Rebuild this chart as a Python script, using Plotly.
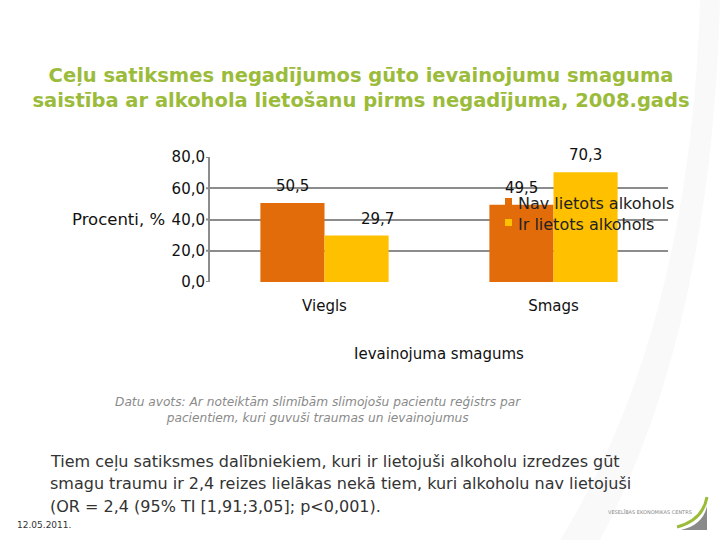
import plotly.graph_objects as go

categories = ["Viegls", "Smags"]
series_names = ["Nav lietots alkohols", "Ir lietots alkohols"]
nav_values = [50.5, 49.5]
ir_values = [29.7, 70.3]
y_ticks = [0, 20, 40, 60, 80]
y_tick_labels = ["0,0", "20,0", "40,0", "60,0", "80,0"]
colors = ["#E36C0A", "#FFC000"]

W, H = 720, 540
L, R, T, B = 210, 52, 157, 258
PW, PH = W - L - R, H - T - B

def px(x):
    return (x - L) / PW

def py(y):
    return (H - B - y) / PH

def fmt(v):
    return f"{v:.1f}".replace(".", ",")

base_font = "DejaVu Sans"

fig = go.Figure()
for name, vals, col in zip(series_names, [nav_values, ir_values], colors):
    fig.add_trace(go.Bar(x=categories, y=vals, name=name, showlegend=False,
                         marker=dict(color=col, line=dict(width=0))))

# data labels
bar_off = 0.14
for si, vals in enumerate([nav_values, ir_values]):
    for ci, v in enumerate(vals):
        xs = ci + (si - 0.5) * 2 * bar_off
        xshift = 21 if (si == 1 and ci == 0) else 0
        fig.add_annotation(x=xs, y=v, xref="x", yref="y", text=fmt(v), showarrow=False,
                           yshift=17, xshift=xshift, font=dict(family=base_font, size=15, color="#111"))

shapes = []
# faint background arc
shapes.append(dict(type="path", xref="paper", yref="paper", layer="below",
                   path=f"M {px(700)} {py(0)} Q {px(690)} {py(330)} {px(560)} {py(540)} L {px(600)} {py(540)} Q {px(712)} {py(330)} {px(720)} {py(0)} Z",
                   fillcolor="rgba(0,0,0,0.025)", line=dict(width=0)))
# y tick marks
for t in y_ticks:
    shapes.append(dict(type="line", xref="paper", yref="y", x0=px(206), x1=px(210), y0=t, y1=t,
                       line=dict(color="#8C8C8C", width=2)))
# manual legend
for i, (name, col) in enumerate(zip(series_names, colors)):
    yc = 203 + i * 21
    shapes.append(dict(type="rect", xref="paper", yref="paper",
                       x0=px(505), x1=px(512), y0=py(yc - 5), y1=py(yc + 2),
                       fillcolor=col, line=dict(width=0)))
    fig.add_annotation(xref="paper", yref="paper", x=px(516), y=py(yc), xanchor="left", yanchor="middle",
                       text=name, showarrow=False, font=dict(family=base_font, size=16, color="#222"))

# logo
shapes.append(dict(type="path", xref="paper", yref="paper",
                   path=f"M {px(707)} {py(506)} Q {px(703)} {py(525)} {px(681)} {py(530)} L {px(707)} {py(530)} Z",
                   fillcolor="#8A8A8A", line=dict(width=0)))
shapes.append(dict(type="path", xref="paper", yref="paper",
                   path=f"M {px(707)} {py(497)} Q {px(703)} {py(520)} {px(677)} {py(527)}",
                   line=dict(color="#9BBB3B", width=3)))

fig.update_layout(
    width=W, height=H,
    paper_bgcolor="white", plot_bgcolor="white",
    margin=dict(l=L, r=R, t=T, b=B, autoexpand=False),
    barmode="group", bargap=0.44, bargroupgap=0,
    font=dict(family=base_font, color="#111"),
    title=dict(text="Ceļu satiksmes negadījumos gūto ievainojumu smaguma<br>saistība ar alkohola lietošanu pirms negadījuma, 2008.gads",
               x=361 / W, xanchor="center", y=1 - 82 / H, yanchor="middle", yref="container", xref="container",
               font=dict(family=base_font, size=19.5, color="#9BBB3B", weight="bold")),
    showlegend=False,
    shapes=shapes,
)
fig.update_yaxes(range=[0, 80], tickvals=y_ticks, ticktext=y_tick_labels, automargin=False,
                 showgrid=True, gridcolor="#8C8C8C", gridwidth=2,
                 showline=True, linecolor="#8C8C8C", linewidth=2,
                 ticks="", ticklabelstandoff=0,
                 tickfont=dict(family=base_font, size=15, color="#111"), zeroline=False)
fig.update_xaxes(showgrid=False, showline=False, ticks="", ticklabelstandoff=13, automargin=False,
                 tickfont=dict(family=base_font, size=15, color="#111"),
                 title=dict(text="Ievainojuma smagums", font=dict(family=base_font, size=15, color="#111"), standoff=34))

# y-axis title (horizontal)
fig.add_annotation(x=px(167), y=40, xref="paper", yref="y", xanchor="right", yanchor="middle",
                   text="Procenti, %", showarrow=False,
                   font=dict(family=base_font, size=16.5, color="#111"))

# source note
fig.add_annotation(x=px(318), y=py(410), xref="paper", yref="paper", xanchor="center", yanchor="middle",
                   text="<i>Datu avots: Ar noteiktām slimībām slimojošu pacientu reģistrs par<br>pacientiem, kuri guvuši traumas un ievainojumus</i>",
                   showarrow=False, font=dict(family=base_font, size=12.2, color="#8A8A8A"))
# paragraph
para = ["Tiem ceļu satiksmes dalībniekiem, kuri ir lietojuši alkoholu izredzes gūt",
        "smagu traumu ir 2,4 reizes lielākas nekā tiem, kuri alkoholu nav lietojuši",
        "(OR = 2,4 (95% TI [1,91;3,05]; p<0,001)."]
for i, line in enumerate(para):
    fig.add_annotation(xref="paper", yref="paper", x=px(48), y=py(461 + i * 22.5),
                       xanchor="left", yanchor="middle", text=line, showarrow=False,
                       font=dict(family=base_font, size=16, color="#333"))
fig.add_annotation(xref="paper", yref="paper", x=px(15), y=py(525), xanchor="left", yanchor="middle",
                   text="12.05.2011.", showarrow=False, font=dict(family=base_font, size=9, color="#333"))
fig.add_annotation(xref="paper", yref="paper", x=px(694), y=py(512), xanchor="right", yanchor="middle",
                   text="VESELĪBAS EKONOMIKAS CENTRS", showarrow=False, font=dict(family=base_font, size=5, color="#888"))

fig.write_html("out.html", config={"displayModeBar": False},
               post_script="document.body.style.margin='0px';")
